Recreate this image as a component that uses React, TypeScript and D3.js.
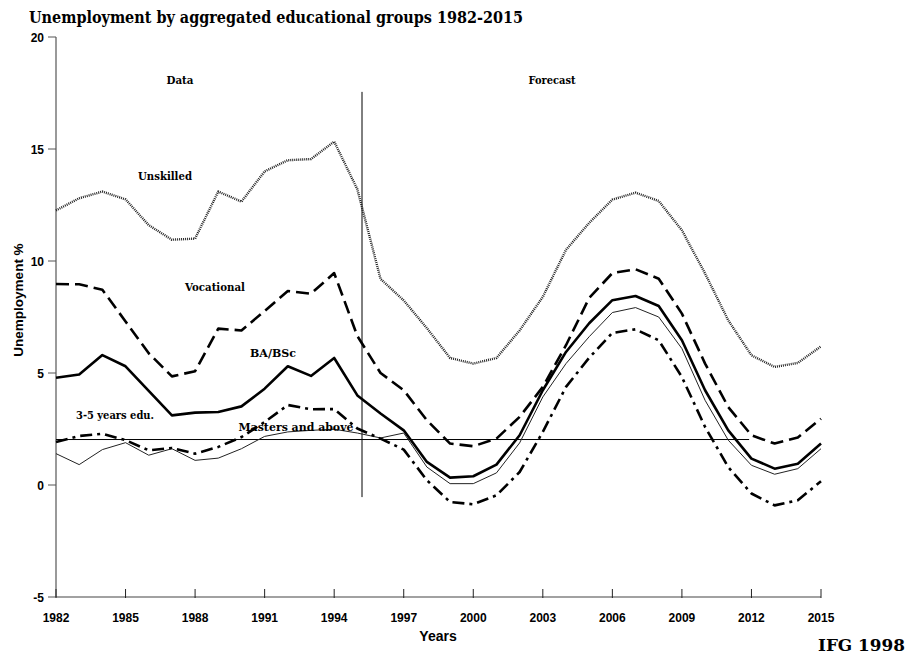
import React from "react";
import * as d3 from "d3";

// years on the x axis
const years = [
  1982, 1983, 1984, 1985, 1986, 1987, 1988, 1989, 1990, 1991, 1992, 1993,
  1994, 1995, 1996, 1997, 1998, 1999, 2000, 2001, 2002, 2003, 2004, 2005,
  2006, 2007, 2008, 2009, 2010, 2011, 2012, 2013, 2014, 2015,
];

// unemployment % per group
const unskilled = [
  12.26, 12.8, 13.1, 12.75, 11.6, 10.95, 11.0, 13.1, 12.65, 14.0, 14.5, 14.55,
  15.33, 13.2, 9.2, 8.24, 7.0, 5.67, 5.42, 5.67, 6.9, 8.4, 10.5, 11.7, 12.74,
  13.05, 12.68, 11.37, 9.44, 7.35, 5.79, 5.27, 5.45, 6.19,
];
const vocational = [
  8.97, 8.96, 8.72, 7.3, 5.88, 4.85, 5.08, 6.98, 6.9, 7.77, 8.66, 8.54, 9.46,
  6.65, 5.0, 4.23, 2.89, 1.85, 1.73, 2.07, 3.04, 4.38, 6.24, 8.35, 9.46, 9.63,
  9.21, 7.65, 5.42, 3.48, 2.22, 1.85, 2.12, 2.96,
];
const baBsc = [
  4.79, 4.93, 5.8, 5.3, 4.2, 3.11, 3.23, 3.26, 3.51, 4.3, 5.3, 4.87, 5.67, 4.0,
  3.19, 2.44, 1.03, 0.33, 0.39, 0.91, 2.22, 4.23, 5.94, 7.22, 8.25, 8.44, 7.99,
  6.46, 4.23, 2.44, 1.18, 0.73, 0.95, 1.85,
];
const masters = [
  1.4, 0.91, 1.58, 1.89, 1.33, 1.62, 1.1, 1.2, 1.62, 2.17, 2.37, 2.44, 2.49,
  2.32, 2.1, 2.32, 0.8, 0.06, 0.06, 0.54, 1.88, 3.93, 5.42, 6.62, 7.7, 7.92,
  7.5, 6.09, 3.78, 2.0, 0.88, 0.48, 0.73, 1.62,
];
const threeToFive = [
  1.92, 2.19, 2.29, 2.0, 1.55, 1.65, 1.4, 1.7, 2.14, 2.81, 3.57, 3.38, 3.39,
  2.52, 2.07, 1.58, 0.21, -0.76, -0.86, -0.46, 0.58, 2.37, 4.38, 5.68, 6.79,
  6.95, 6.46, 4.82, 2.59, 0.8, -0.38, -0.91, -0.68, 0.17,
];

const xTicks = [1982, 1985, 1988, 1991, 1994, 1997, 2000, 2003, 2006, 2009, 2012, 2015];
const yTicks = [-5, 0, 5, 10, 15, 20];

// reference line and data/forecast divider
const refLevel = 2.03;
const refEnd = 2011.9;
const splitYear = 1995.2;
const splitRange = [-0.54, 17.55];

const W = 912;
const H = 661;

const x = d3.scaleLinear().domain([1982, 2015]).range([56, 821]);
const y = d3.scaleLinear().domain([-5, 20]).range([597, 37]);

const line = d3
  .line<number>()
  .x((_, i) => x(years[i]))
  .y((d) => y(d));

const serif = "'DejaVu Serif', serif";
const sans = "'Liberation Sans', Arial, sans-serif";

const series = [
  { name: "unskilled", values: unskilled, width: 2.4, dash: "1,1", color: "#222" },
  { name: "vocational", values: vocational, width: 2.6, dash: "13,6", color: "#000" },
  { name: "ba", values: baBsc, width: 2.6, dash: null, color: "#000" },
  { name: "masters", values: masters, width: 1, dash: null, color: "#222" },
  { name: "three", values: threeToFive, width: 2.6, dash: "12,5,3,5", color: "#000" },
];

const labels = [
  { text: "Data", x: 180, y: 84, w: 27 },
  { text: "Forecast", x: 552, y: 84, w: 47 },
  { text: "Unskilled", x: 165, y: 180, w: 54 },
  { text: "Vocational", x: 215, y: 291, w: 60 },
  { text: "BA/BSc", x: 273, y: 357, w: 46 },
  { text: "3-5 years edu.", x: 115, y: 419, w: 78 },
  { text: "Masters and above", x: 296, y: 431, w: 115 },
];

export default function App() {
  return (
    <svg width={W} height={H} style={{ position: "absolute", left: 0, top: 0, background: "#fff" }}>
      <rect width={W} height={H} fill="#fff" />
      <text
        x={29}
        y={23}
        fontFamily={serif}
        fontWeight="bold"
        fontSize={16}
        textLength={494}
        lengthAdjust="spacingAndGlyphs"
      >
        Unemployment by aggregated educational groups 1982-2015
      </text>

      {/* y axis */}
      <line x1={x(1982)} x2={x(1982)} y1={y(20)} y2={y(-5)} stroke="#777" strokeWidth={1.5} />
      {yTicks.map((t) => (
        <g key={t}>
          <line x1={x(1982) - 8} x2={x(1982)} y1={y(t)} y2={y(t)} stroke="#555" strokeWidth={1} />
          <text
            x={x(1982) - 12}
            y={y(t) + 4.5}
            textAnchor="end"
            fontFamily={sans}
            fontWeight="bold"
            fontSize={12}
          >
            {t}
          </text>
        </g>
      ))}
      <text
        transform={`translate(23,300) rotate(-90)`}
        textAnchor="middle"
        fontFamily={sans}
        fontWeight="bold"
        fontSize={13.5}
      >
        Unemployment %
      </text>

      {/* x axis */}
      <line x1={x(1982)} x2={x(2015)} y1={y(-5)} y2={y(-5)} stroke="#444" strokeWidth={1.2} />
      {xTicks.map((t) => (
        <g key={t}>
          <line x1={x(t)} x2={x(t)} y1={y(-5) - 8} y2={y(-5) + 1} stroke="#222" strokeWidth={1} />
          <text
            x={x(t)}
            y={y(-5) + 25}
            textAnchor="middle"
            fontFamily={sans}
            fontWeight="bold"
            fontSize={12}
          >
            {t}
          </text>
        </g>
      ))}
      <text x={438} y={641} textAnchor="middle" fontFamily={sans} fontWeight="bold" fontSize={14}>
        Years
      </text>

      {/* reference line and data/forecast split */}
      <line x1={x(1982)} x2={x(refEnd)} y1={y(refLevel)} y2={y(refLevel)} stroke="#000" strokeWidth={1} />
      <line
        x1={x(splitYear)}
        x2={x(splitYear)}
        y1={y(splitRange[1])}
        y2={y(splitRange[0])}
        stroke="#000"
        strokeWidth={1}
      />

      {series.map((s) => (
        <path
          key={s.name}
          d={line(s.values) ?? ""}
          fill="none"
          stroke={s.color}
          strokeWidth={s.width}
          strokeDasharray={s.dash ?? undefined}
          strokeLinejoin="round"
        />
      ))}

      {labels.map((l) => (
        <text
          key={l.text}
          x={l.x}
          y={l.y}
          textAnchor="middle"
          fontFamily={serif}
          fontWeight="bold"
          fontSize={11.5}
          textLength={l.w}
          lengthAdjust="spacingAndGlyphs"
        >
          {l.text}
        </text>
      ))}

      <text
        x={818}
        y={651}
        fontFamily={serif}
        fontWeight="bold"
        fontSize={17}
        textLength={87}
        lengthAdjust="spacingAndGlyphs"
      >
        IFG 1998
      </text>
    </svg>
  );
}
